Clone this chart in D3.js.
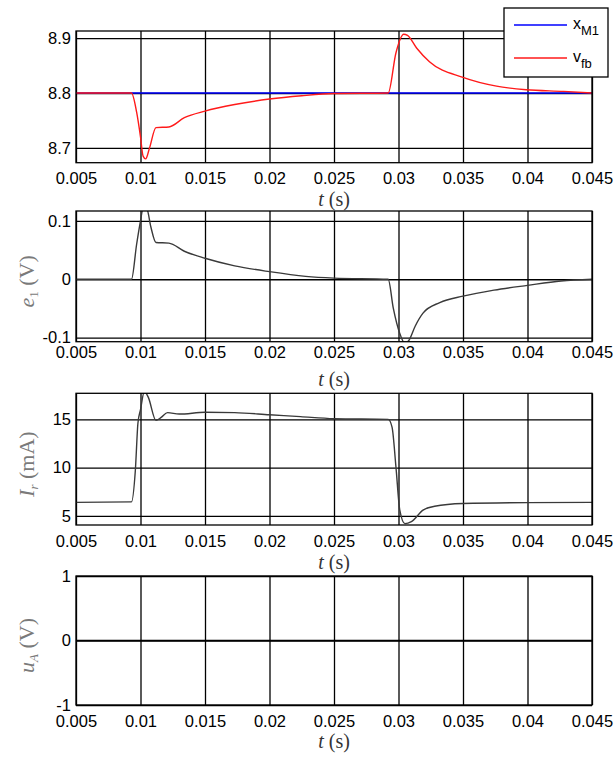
<!DOCTYPE html>
<html>
<head>
<meta charset="utf-8">
<script src="https://cdn.jsdelivr.net/npm/d3@7"></script>
<style>
  body { margin: 0; background: #fff; }
  svg { display: block; }
  .tick text { font-family: "Liberation Sans", Arial, sans-serif; font-size: 16.5px; fill: #000; }
  .domain { display: none; }
</style>
</head>
<body>
<svg id="chart"></svg>
<script>
const width = 614;
const height = 757;

// x ticks shared by all four panels
const tTicks = [0.005, 0.01, 0.015, 0.02, 0.025, 0.03, 0.035, 0.04, 0.045];

// panel 1: x_M1 (reference) and v_fb (feedback)
const xM1T = [0.005, 0.045];
const xM1V = [8.8, 8.8];
const vfbT = [0.005, 0.0093, 0.0097, 0.0100, 0.0102, 0.0104, 0.0107, 0.0112, 0.0122, 0.0134, 0.015, 0.0173, 0.02, 0.0225, 0.025, 0.0292, 0.0298, 0.0304, 0.0307, 0.0314, 0.0324, 0.035, 0.0376, 0.0399, 0.0428, 0.045];
const vfbV = [8.8, 8.8, 8.765, 8.72, 8.685, 8.68, 8.70, 8.737, 8.738, 8.755, 8.767, 8.779, 8.789, 8.795, 8.799, 8.8, 8.873, 8.907, 8.905, 8.882, 8.857, 8.8285, 8.8125, 8.806, 8.803, 8.8];
const p1Ticks = [8.7, 8.8, 8.9];

// panel 2: e1 (V)
const e1T = [0.005, 0.0093, 0.0097, 0.0100, 0.0102, 0.0105, 0.0108, 0.0112, 0.0122, 0.0134, 0.015, 0.0173, 0.02, 0.0228, 0.025, 0.0292, 0.0296, 0.0301, 0.0305, 0.0308, 0.0313, 0.0319, 0.0332, 0.035, 0.0374, 0.04, 0.0426, 0.045];
const e1V = [0, 0, 0.06, 0.10, 0.122, 0.12, 0.09, 0.063, 0.062, 0.048, 0.036, 0.023, 0.013, 0.005, 0.002, 0, -0.05, -0.093, -0.11, -0.105, -0.08, -0.058, -0.04, -0.029, -0.0186, -0.0104, -0.003, 0];
const p2Ticks = [-0.1, 0, 0.1];

// panel 3: Ir (mA)
const irT = [0.005, 0.0093, 0.0096, 0.0098, 0.0100, 0.0103, 0.0106, 0.0112, 0.0116, 0.0121, 0.013, 0.015, 0.0173, 0.02, 0.0224, 0.025, 0.0292, 0.0295, 0.0298, 0.0301, 0.0305, 0.0310, 0.0319, 0.0328, 0.035, 0.04, 0.045];
const irV = [6.4, 6.45, 9.7, 14.6, 16.0, 17.9, 17.3, 14.9, 15.2, 15.7, 15.55, 15.73, 15.7, 15.48, 15.28, 15.07, 15.0, 14.2, 10.1, 5.6, 4.2, 4.4, 5.6, 6.0, 6.28, 6.38, 6.4];
const p3Ticks = [5, 10, 15];

// panel 4: uA (V)
const uaT = [0.005, 0.045];
const uaV = [0, 0];
const p4Ticks = [-1, 0, 1];

const svg = d3.select('#chart')
  .attr('width', width)
  .attr('height', height);

const x = d3.scaleLinear().domain([0.005, 0.045]).range([76, 592]);

// matlab style labels: plain hyphen for negatives
const plain = d => (d < 0 ? '-' : '') + String(Math.abs(d));

const panels = [
  { id: 'p1', top: 31, bottom: 162.7, domain: [8.673, 8.913], ticks: p1Ticks, labPad: 9.6, titleY: 206, ylab: null,
    series: [{ t: xM1T, v: xM1V, color: '#0000ff', w: 1.3 }, { t: vfbT, v: vfbV, color: '#ff1a1a', w: 1.4 }] },
  { id: 'p2', top: 211, bottom: 341.7, domain: [-0.107, 0.117], ticks: p2Ticks, labPad: 5, titleY: 386,
    ylab: ['e', '1', ' (V)', 'normal'], series: [{ t: e1T, v: e1V, color: '#3a3a3a', w: 1.4 }] },
  { id: 'p3', top: 393.3, bottom: 525, domain: [4.06, 17.7], ticks: p3Ticks, labPad: 10, titleY: 569,
    ylab: ['I', 'r', ' (mA)', 'italic'], series: [{ t: irT, v: irV, color: '#3a3a3a', w: 1.4 }] },
  { id: 'p4', top: 576, bottom: 705, domain: [-1, 1], ticks: p4Ticks, labPad: 10.5, titleY: 748,
    ylab: ['u', 'A', ' (V)', 'italic'], series: [{ t: uaT, v: uaV, color: '#000', w: 1.3 }] }
];

panels.forEach(p => {
  const y = d3.scaleLinear().domain(p.domain).range([p.bottom, p.top]);
  const h = p.bottom - p.top;
  const g = svg.append('g');

  g.append('clipPath').attr('id', 'clip-' + p.id)
    .append('rect')
    .attr('x', x.range()[0]).attr('y', p.top)
    .attr('width', x.range()[1] - x.range()[0]).attr('height', h);

  // vertical grid
  g.append('g')
    .attr('transform', `translate(0,${p.bottom})`)
    .call(d3.axisBottom(x).tickValues(tTicks).tickSize(-h).tickFormat(''))
    .selectAll('line').attr('stroke', '#000').attr('stroke-width', 1.3);

  // horizontal grid
  g.append('g')
    .attr('transform', `translate(${x.range()[0]},0)`)
    .call(d3.axisLeft(y).tickValues(p.ticks).tickSize(-(x.range()[1] - x.range()[0])).tickFormat(''))
    .selectAll('line').attr('stroke', '#000').attr('stroke-width', 1.3);

  // x tick labels
  g.append('g')
    .attr('transform', `translate(0,${p.bottom})`)
    .call(d3.axisBottom(x).tickValues(tTicks).tickSize(0).tickPadding(p.labPad).tickFormat(d => String(d)));

  // y tick labels
  g.append('g')
    .attr('transform', `translate(${x.range()[0]},0)`)
    .call(d3.axisLeft(y).tickValues(p.ticks).tickSize(0).tickPadding(5).tickFormat(plain));

  // curves
  const line = d3.line().x(d => x(d[0])).y(d => y(d[1])).curve(d3.curveMonotoneX);
  p.series.forEach(s => {
    g.append('path')
      .datum(s.t.map((t, i) => [t, s.v[i]]))
      .attr('clip-path', `url(#clip-${p.id})`)
      .attr('fill', 'none')
      .attr('stroke', s.color)
      .attr('stroke-width', s.w)
      .attr('stroke-linejoin', 'round')
      .attr('d', line);
  });

  // frame
  g.append('rect')
    .attr('x', x.range()[0]).attr('y', p.top)
    .attr('width', x.range()[1] - x.range()[0]).attr('height', h)
    .attr('fill', 'none').attr('stroke', '#000').attr('stroke-width', 1.3);

  // x title  t (s)
  const xt = g.append('text')
    .attr('x', (x.range()[0] + x.range()[1]) / 2)
    .attr('y', p.titleY)
    .attr('text-anchor', 'middle')
    .style('font-family', '"Liberation Serif", "DejaVu Serif", serif')
    .style('font-size', '20px')
    .attr('fill', '#333');
  xt.append('tspan').style('font-style', 'italic').text('t');
  xt.append('tspan').text(' (s)');

  // y title
  if (p.ylab) {
    const cy = (p.top + p.bottom) / 2 + 5;
    const yt = g.append('text')
      .attr('transform', `translate(34,${cy}) rotate(-90)`)
      .attr('text-anchor', 'middle')
      .style('font-family', '"Liberation Serif", "DejaVu Serif", serif')
      .style('font-size', '22px')
      .attr('fill', '#7a7a7a');
    yt.append('tspan').style('font-style', 'italic').text(p.ylab[0]);
    yt.append('tspan').attr('dy', 4).style('font-size', '13px').style('font-style', p.ylab[3]).text(p.ylab[1]);
    yt.append('tspan').attr('dy', -4).text(p.ylab[2]);
  }
});

// legend for panel 1
const lg = svg.append('g');
lg.append('rect')
  .attr('x', 504).attr('y', 8).attr('width', 104).attr('height', 69)
  .attr('fill', '#fff').attr('stroke', '#000').attr('stroke-width', 1.3);
const legendItems = [
  { name: 'x', sub: 'M1', color: '#0000ff', y: 25 },
  { name: 'v', sub: 'fb', color: '#ff1a1a', y: 58 }
];
legendItems.forEach(it => {
  lg.append('line')
    .attr('x1', 514).attr('x2', 567).attr('y1', it.y).attr('y2', it.y)
    .attr('stroke', it.color).attr('stroke-width', 1.4);
  const t = lg.append('text')
    .attr('x', 573).attr('y', it.y + 4)
    .style('font-family', '"Liberation Sans", Arial, sans-serif')
    .style('font-size', '16px')
    .attr('fill', '#000');
  t.append('tspan').text(it.name);
  t.append('tspan').attr('dy', 6).style('font-size', '13px').text(it.sub);
});
</script>
</body>
</html>
